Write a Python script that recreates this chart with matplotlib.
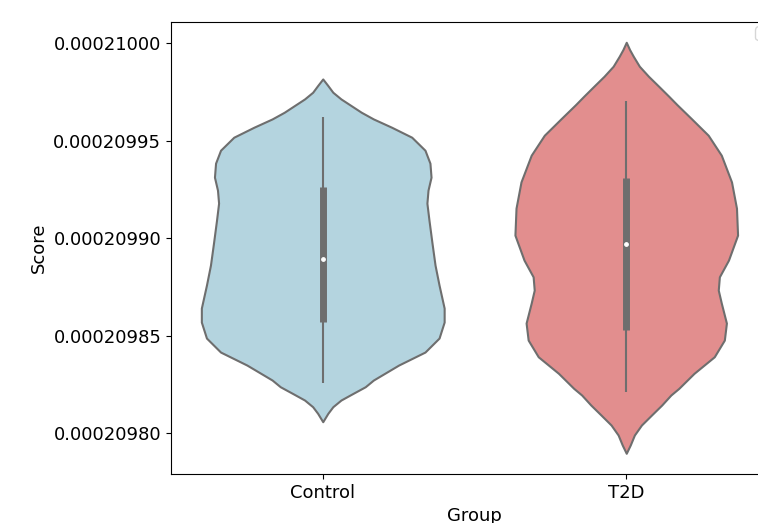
import matplotlib
matplotlib.use("Agg")
import matplotlib.pyplot as plt
import numpy as np
from matplotlib.ticker import FormatStrFormatter

plt.rcParams["font.size"] = 13

# group names
groups = ["Control", "T2D"]

# violin outlines: score value and relative density
control_scores = [0.00020998157, 0.00020997819, 0.00020997476, 0.00020997133, 0.00020996795,
                  0.00020996452, 0.00020996109, 0.00020995684, 0.00020995172, 0.00020994506,
                  0.00020993841, 0.00020993124, 0.00020992458, 0.00020991793, 0.00020990922,
                  0.00020989745, 0.00020988618, 0.00020987594, 0.00020986417, 0.00020985700,
                  0.00020984881, 0.00020984164, 0.00020983498, 0.00020982730, 0.00020982387,
                  0.00020982049, 0.00020981706, 0.00020981363, 0.00020981025, 0.00020980595]
control_density = [0.0, 0.042, 0.083, 0.15, 0.233, 0.317, 0.417, 0.567, 0.733, 0.842,
                   0.883, 0.892, 0.867, 0.858, 0.875, 0.90, 0.925, 0.958, 1.0, 1.0,
                   0.958, 0.842, 0.625, 0.417, 0.35, 0.25, 0.15, 0.083, 0.042, 0.0]

t2d_scores = [0.00021000036, 0.00020999662, 0.00020999319, 0.00020998807, 0.00020998295,
              0.00020997783, 0.00020997271, 0.00020996846, 0.00020996145, 0.00020995274,
              0.00020994250, 0.00020992883, 0.00020991537, 0.00020990154, 0.00020988874,
              0.00020988019, 0.00020987338, 0.00020986673, 0.00020985649, 0.00020984778,
              0.00020983923, 0.00020983073, 0.00020982305, 0.00020981962, 0.00020981450,
              0.00020980938, 0.00020980426, 0.00020979914, 0.00020979402, 0.00020978977]
t2d_density = [0.0, 0.0275, 0.058, 0.108, 0.183, 0.267, 0.35, 0.417, 0.533, 0.675,
               0.783, 0.867, 0.908, 0.917, 0.842, 0.767, 0.758, 0.783, 0.825, 0.808,
               0.725, 0.558, 0.433, 0.367, 0.292, 0.208, 0.125, 0.067, 0.033, 0.0]

# box summary: whisker low, q1, median, q3, whisker high
control_box = [0.00020982590, 0.00020985710, 0.00020988910, 0.00020992630, 0.00020996210]
t2d_box = [0.00020982099, 0.00020985289, 0.00020989677, 0.00020993057, 0.00020997015]

fills = ["#B4D4DF", "#E28E8E"]
edge = "#6e6e6e"

fig = plt.figure(figsize=(7.58, 5.23), dpi=100)
ax = fig.add_axes([171 / 758, 49 / 523, 607 / 758, 452 / 523])

profiles = [(control_scores, control_density, control_box),
            (t2d_scores, t2d_density, t2d_box)]

stats = []
widths = []
for scores, dens, box in profiles:
    stats.append({
        "coords": np.array(scores),
        "vals": np.array(dens),
        "mean": box[2], "median": box[2],
        "min": min(scores), "max": max(scores),
        "quantiles": [],
    })
    widths.append(0.8 * max(dens) / max(control_density))

parts = ax.violin(stats, positions=range(len(groups)), widths=widths,
                  showmeans=False, showextrema=False, showmedians=False)
for body, c in zip(parts["bodies"], fills):
    body.set_facecolor(c)
    body.set_edgecolor(edge)
    body.set_linewidth(1.5)
    body.set_joinstyle("round")
    body.set_alpha(1)

# inner box
for i, (_, _, box) in enumerate(profiles):
    ax.plot([i, i], [box[0], box[4]], color=edge, lw=1.5, solid_capstyle="butt", zorder=3)
    ax.plot([i, i], [box[1], box[3]], color=edge, lw=5, solid_capstyle="butt", zorder=3)
    ax.scatter([i], [box[2]], s=6, color="white", zorder=4)

ax.set_xticks(range(len(groups)))
ax.set_xticklabels(groups)
ax.set_xlim(-0.5, 1.5)
ax.set_ylim(0.00020977916, 0.00021001075)
ax.set_yticks([0.0002098, 0.00020985, 0.0002099, 0.00020995, 0.00021])
ax.yaxis.set_major_formatter(FormatStrFormatter("%.8f"))
ax.set_xlabel("Group")
ax.set_ylabel("Score")
ax.legend(handles=[], labels=[], loc="upper left",
          bbox_to_anchor=((755 - 171) / 607, (474 - 26) / 452), borderaxespad=0)

fig.savefig("out.png", dpi=100)
